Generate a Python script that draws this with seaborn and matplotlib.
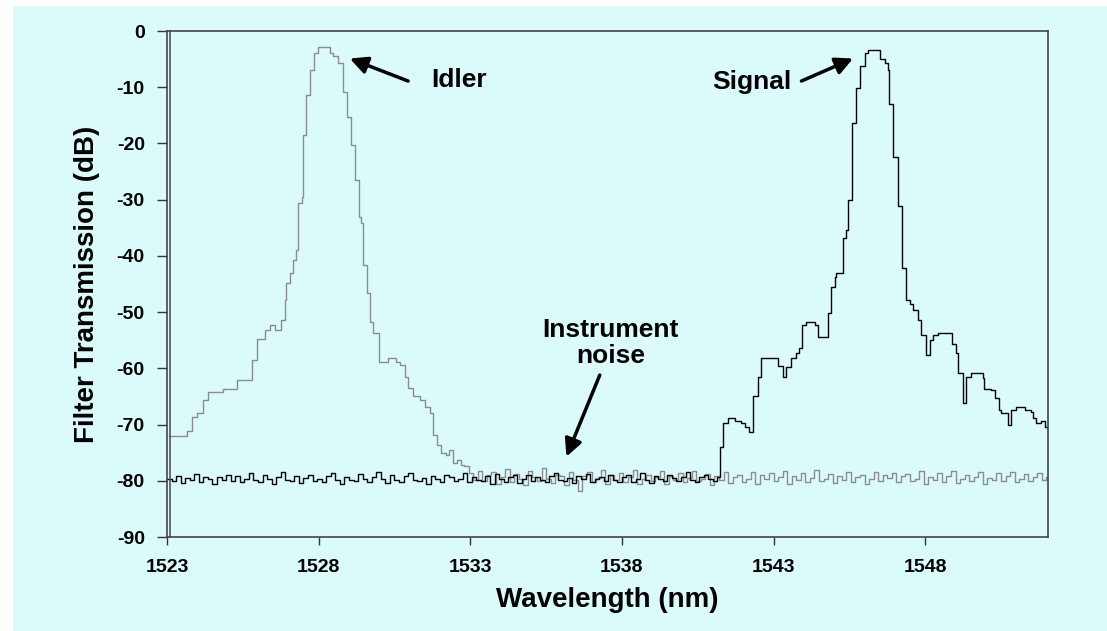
import numpy as np
import pandas as pd
import matplotlib
matplotlib.use("Agg")
import matplotlib.pyplot as plt
import seaborn as sns

# ---- data -----------------------------------------------------------------
# Idler filter passband (step corners: wavelength in nm, transmission in dB)
idler_nm = [1523.05, 1523.65, 1523.81, 1523.98, 1524.20, 1524.36, 1524.86, 1525.30,
            1525.79, 1525.96, 1526.23, 1526.39, 1526.55, 1526.75, 1526.89, 1526.94,
            1527.05, 1527.16, 1527.27, 1527.31, 1527.44, 1527.47, 1527.57, 1527.71,
            1527.84, 1527.99, 1528.37, 1528.48, 1528.65, 1528.79, 1528.92, 1529.06,
            1529.20, 1529.33, 1529.40, 1529.47, 1529.60, 1529.71, 1529.80, 1530.00,
            1530.29, 1530.55, 1530.68, 1530.84, 1530.95, 1531.12, 1531.34, 1531.50,
            1531.67, 1531.78, 1531.89, 1532.05, 1532.20, 1532.30, 1532.44, 1532.55,
            1532.70]
idler_db = [-72.0, -71.2, -68.6, -68.0, -65.6, -64.2, -63.6, -62.1,
            -58.5, -54.7, -53.2, -52.3, -53.2, -51.4, -47.8, -44.8,
            -43.0, -40.7, -39.0, -30.6, -29.5, -18.5, -11.4, -6.9,
            -3.9, -2.8, -3.9, -4.5, -5.7, -10.8, -15.3, -20.3,
            -26.5, -33.0, -34.2, -41.6, -46.6, -51.7, -53.7, -58.8,
            -58.2, -58.8, -59.4, -61.5, -63.5, -65.0, -65.6, -66.8,
            -68.0, -71.9, -73.6, -75.0, -75.5, -74.5, -76.8, -76.3,
            -77.2]

# Instrument noise floor seen through the idler filter (from 1532.8 nm, 0.15 nm steps)
idler_noise_start, noise_step = 1532.8, 0.15
idler_noise_db = [
    -77.4, -78.6, -79.8, -78.2, -80.1, -79.0, -78.4, -80.5, -79.3, -77.9,
    -80.2, -78.8, -79.6, -80.7, -78.3, -79.4, -80.0, -77.8, -79.7, -80.4,
    -78.9, -79.2, -80.8, -78.5, -79.9, -81.9, -79.1, -78.4, -80.3, -79.5,
    -78.1, -80.6, -79.0, -79.8, -78.6, -80.2, -79.3, -78.0, -80.5, -79.7,
    -78.9, -80.1, -79.4, -78.3, -80.6, -79.2, -79.9, -78.7, -80.3, -79.5,
    -78.2, -80.0, -79.6, -78.8, -80.7, -79.1, -79.8, -78.5, -80.4, -79.3,
    -78.9, -80.2, -79.6, -78.4, -80.5, -79.0, -79.7, -78.6, -80.1, -79.4,
    -78.3, -80.6, -79.2, -79.9, -78.7, -80.3, -79.5, -78.1, -80.0, -79.6,
    -78.8, -80.4, -79.1, -79.8, -78.5, -80.2, -79.3, -78.9, -80.6, -79.7,
    -78.4, -80.1, -79.0, -79.5, -78.6, -80.3, -79.2, -78.8, -80.0, -79.6,
    -78.2, -80.5, -79.4, -79.9, -78.7, -80.2, -79.1, -78.3, -80.4, -79.7,
    -78.9, -80.0, -79.3, -78.5, -80.6, -79.5, -79.8, -78.6, -80.1, -79.2,
    -78.4, -80.3, -79.6, -78.8, -80.0, -79.4, -78.7, -79.9, -79.3]

# Instrument noise floor seen through the signal filter (from 1523.0 nm, 0.15 nm steps)
signal_noise_start = 1523.0
signal_noise_db = [
    -79.6, -80.1, -79.2, -80.4, -79.5, -79.9, -78.8, -80.2, -79.4, -79.7,
    -80.5, -79.3, -79.8, -78.9, -80.0, -79.1, -80.3, -79.6, -78.6, -79.9,
    -80.2, -79.0, -79.7, -80.6, -79.4, -78.4, -79.8, -80.1, -79.2, -80.4,
    -79.5, -78.9, -80.0, -79.6, -80.3, -79.1, -78.7, -79.9, -80.5, -79.3,
    -79.8, -80.1, -78.8, -79.6, -80.2, -79.4, -78.5, -79.7, -80.4, -79.0,
    -79.9, -80.3, -79.2, -78.6, -79.8, -80.0, -79.5, -80.6, -79.1, -79.7,
    -80.2, -78.9, -79.4, -80.1, -79.6, -78.7, -80.3, -79.3, -79.9, -80.0,
    -79.2, -80.5, -78.8, -79.7, -80.2, -79.4, -79.0, -80.4, -79.6, -78.9,
    -80.1, -79.3, -79.8, -80.3, -79.1, -78.6, -79.9, -80.0, -79.5, -80.4,
    -79.2, -79.7, -78.8, -80.2, -79.6, -79.3, -80.1, -78.9, -79.8, -80.3,
    -79.4, -79.0, -80.2, -79.6, -78.7, -79.9, -80.4, -79.2, -79.7, -80.0,
    -78.9, -79.5, -80.1, -79.3, -78.5, -79.8, -80.2, -79.4, -79.0, -79.6,
    -80.0, -79.3]

# Signal filter passband (step corners)
signal_nm = [1541.23, 1541.34, 1541.50, 1541.72, 1541.94, 1542.05, 1542.19, 1542.32,
             1542.49, 1542.60, 1543.15, 1543.31, 1543.42, 1543.59, 1543.75, 1543.84,
             1543.95, 1544.08, 1544.36, 1544.47, 1544.63, 1544.78, 1544.91, 1545.02,
             1545.07, 1545.29, 1545.40, 1545.46, 1545.59, 1545.71, 1545.73, 1545.86,
             1546.01, 1546.11, 1546.50, 1546.67, 1546.78, 1546.81, 1546.94, 1547.10,
             1547.22, 1547.36, 1547.49, 1547.60, 1547.76, 1547.87, 1548.04, 1548.15,
             1548.26, 1548.42, 1548.90, 1549.03, 1549.08, 1549.25, 1549.36, 1549.52,
             1549.90, 1549.95, 1550.18, 1550.29, 1550.43, 1550.51, 1550.73, 1550.84,
             1551.00, 1551.28, 1551.50, 1551.55, 1551.66, 1551.83, 1551.94, 1552.05]
signal_db = [-74.0, -69.8, -68.9, -69.3, -69.8, -70.4, -71.3, -65.0,
             -61.5, -58.2, -59.6, -61.5, -59.8, -58.2, -57.3, -56.4,
             -52.3, -51.7, -52.3, -54.4, -54.4, -50.2, -45.5, -43.7,
             -43.1, -36.9, -35.4, -30.1, -16.4, -15.2, -10.2, -6.3,
             -4.0, -3.4, -4.9, -5.7, -6.9, -12.9, -22.4, -31.2,
             -42.2, -47.8, -48.5, -49.6, -51.4, -54.1, -57.6, -54.9,
             -54.0, -53.8, -55.6, -57.3, -60.9, -66.2, -61.6, -60.9,
             -61.8, -63.6, -63.8, -65.3, -67.4, -68.0, -70.0, -67.4,
             -66.8, -67.4, -67.7, -68.9, -69.8, -69.4, -70.4, -71.0]

x_ticks = [1523, 1528, 1533, 1538, 1543, 1548]
y_ticks = [0, -10, -20, -30, -40, -50, -60, -70, -80, -90]

# ---- assemble traces --------------------------------------------------------
idler_noise_nm = idler_noise_start + noise_step * np.arange(len(idler_noise_db))
signal_noise_nm = signal_noise_start + noise_step * np.arange(len(signal_noise_db))

df = pd.concat([
    pd.DataFrame({"Wavelength": np.r_[idler_nm, idler_noise_nm],
                  "dB": np.r_[idler_db, idler_noise_db], "trace": "Idler"}),
    pd.DataFrame({"Wavelength": np.r_[signal_noise_nm, signal_nm],
                  "dB": np.r_[signal_noise_db, signal_db], "trace": "Signal"}),
], ignore_index=True)

# ---- figure -----------------------------------------------------------------
sns.set_theme(style="white")
plt.rcParams["font.family"] = ["Liberation Sans", "DejaVu Sans"]
plt.rcParams["text.color"] = "black"
plt.rcParams["axes.labelcolor"] = "black"
plt.rcParams["xtick.color"] = "black"
plt.rcParams["ytick.color"] = "black"

bg = "#DBFBFB"
fig = plt.figure(figsize=(11.07, 6.31), dpi=100, facecolor="white")
fig.patches.append(plt.Rectangle((13 / 1107, -0.01), 1, 1.01 - 6 / 631,
                                 transform=fig.transFigure, facecolor=bg,
                                 edgecolor="none", zorder=-10))
ax = fig.add_axes([167 / 1107, 1 - 537 / 631, (1048 - 167) / 1107, (537 - 31) / 631])
ax.set_facecolor(bg)

sns.lineplot(data=df, x="Wavelength", y="dB", hue="trace",
             palette={"Idler": "#8c8c8c", "Signal": "#000000"},
             estimator=None, sort=False, errorbar=None, legend=False,
             drawstyle="steps-post", linewidth=1.0, ax=ax)

ax.set_xlim(1523, 1552.05)
ax.set_ylim(-90, 0)
ax.set_xticks(x_ticks)
ax.set_yticks(y_ticks)
ax.set_xticklabels([str(t) for t in x_ticks], fontsize=14, fontweight="bold")
ax.set_yticklabels([str(t) for t in y_ticks], fontsize=14, fontweight="bold")
ax.tick_params(axis="x", direction="out", length=6, width=1, color="#333333", pad=10,
               labelcolor="black", bottom=True)
ax.tick_params(axis="y", direction="out", length=7, width=1, color="#333333", pad=9,
               labelcolor="black", left=True)

for side in ["left", "right", "top", "bottom"]:
    ax.spines[side].set_visible(True)
    ax.spines[side].set_color("#444444")
    ax.spines[side].set_linewidth(1.2)
# inner rule alongside the left axis
ax.plot([0.0035, 0.0035], [0, 1], transform=ax.transAxes, color="#555555", lw=1.2,
        clip_on=False)

ax.set_xlabel("Wavelength (nm)", fontsize=20, fontweight="bold", labelpad=8,
              color="black")
ax.set_ylabel("Filter Transmission (dB)", fontsize=20, fontweight="bold", labelpad=12,
              color="black")

arrow = dict(arrowstyle="-|>", color="black", lw=2.5, mutation_scale=26,
             shrinkA=0, shrinkB=0)
ax.annotate("", xy=(1529.03, -4.9), xytext=(1530.95, -8.9), arrowprops=arrow)
ax.text(1531.7, -8.8, "Idler", fontsize=19, fontweight="bold", ha="left", va="center",
        color="black")

ax.annotate("", xy=(1545.62, -4.9), xytext=(1543.92, -8.9), arrowprops=arrow)
ax.text(1543.6, -9.0, "Signal", fontsize=19, fontweight="bold", ha="right", va="center",
        color="black")

ax.annotate("", xy=(1536.17, -75.7), xytext=(1537.27, -61.2), arrowprops=arrow)
ax.text(1537.63, -55.5, "Instrument\nnoise", fontsize=19, fontweight="bold",
        ha="center", va="center", linespacing=1.1, color="black")

fig.savefig("out.png", dpi=100, facecolor=fig.get_facecolor())
